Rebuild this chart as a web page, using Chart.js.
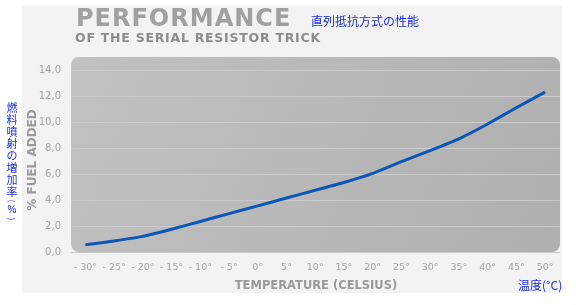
<!DOCTYPE html>
<html>
<head>
<meta charset="utf-8">
<script src="https://cdn.jsdelivr.net/npm/chart.js@4"></script>
<style>
body{margin:0;background:#fff;}
#wrap{position:relative;width:576px;height:305px;overflow:hidden;}
#panel{position:absolute;left:22px;top:6px;width:540px;height:287px;background:#f3f3f3;}
canvas{position:absolute;left:0;top:0;}
.t{position:absolute;white-space:nowrap;font-family:"DejaVu Sans",sans-serif;font-weight:bold;}
#title{left:76px;top:4px;font-size:24px;color:#a0a0a0;letter-spacing:1px;}
#sub{left:75px;top:30px;font-size:12.5px;color:#8c8c8c;letter-spacing:0.75px;}
#jp1{left:311px;top:12px;font-size:12px;color:#1c2ee0;font-family:"Noto Sans CJK JP",sans-serif;font-weight:normal;}
#ytitle{left:32px;top:160px;font-size:12px;color:#9a9a9a;transform:translate(-50%,-50%) rotate(-90deg);}
#xtitle{left:316px;top:285px;font-size:11.5px;color:#9a9a9a;transform:translate(-50%,-50%);}
#jp2{left:518px;top:276px;font-size:12px;color:#1c2ee0;font-family:"Noto Sans CJK JP",sans-serif;font-weight:normal;}
#jp3{left:5px;top:101px;width:14px;display:flex;flex-direction:column;align-items:center;font-size:11px;color:#1c2ee0;font-family:"Noto Sans CJK JP",sans-serif;font-weight:normal;}
#jp3 span{display:block;height:12px;line-height:12px;}
#jp3 span.p{height:6px;line-height:6px;font-size:8px;transform:rotate(90deg);margin:1px 0;}
#jp3 span.pc{height:10px;line-height:10px;font-family:"Liberation Sans",sans-serif;font-size:10px;}
</style>
</head>
<body>
<div id="wrap">
<div id="panel"></div>
<canvas id="myChart" width="576" height="305"></canvas>
<div class="t" id="title">PERFORMANCE</div>
<div class="t" id="sub">OF THE SERIAL RESISTOR TRICK</div>
<div class="t" id="jp1">直列抵抗方式の性能</div>
<div class="t" id="ytitle">% FUEL ADDED</div>
<div class="t" id="xtitle">TEMPERATURE (CELSIUS)</div>
<div class="t" id="jp2">温度(°C)</div>
<div class="t" id="jp3"><span>燃</span><span>料</span><span>噴</span><span>射</span><span>の</span><span>増</span><span>加</span><span>率</span><span class="p">(</span><span class="pc">%</span><span class="p">)</span></div>
</div>
<script>
// values
var temps = [-30,-25,-20,-15,-10,-5,0,5,10,15,20,25,30,35,40,45,50]
var fuel = [0.55,0.85,1.2,1.75,2.35,2.95,3.55,4.15,4.75,5.35,6.05,6.95,7.8,8.7,9.85,11.1,12.3]
var yTicks = [0,2,4,6,8,10,12,14]

var ctx = document.getElementById('myChart').getContext('2d');

var plotBg = {
  id: 'plotBg',
  beforeDraw: function(chart){
    let a = chart.chartArea
    let c = chart.ctx
    c.save()
    let g = c.createLinearGradient(a.left, a.top, a.right, a.bottom)
    g.addColorStop(0, '#c1c1c1')
    g.addColorStop(1, '#afafaf')
    c.fillStyle = g
    c.beginPath()
    c.roundRect(a.left, a.top, a.right - a.left, a.bottom - a.top, 8)
    c.fill()
    c.restore()
  }
}

var myChart = new Chart(ctx, {
  type: 'line',
  data: {
    datasets: [{
      data: temps.map((t,i)=>({x:t, y:fuel[i]})),
      borderColor: '#0b57b5',
      borderWidth: 3,
      pointRadius: 0,
      tension: 0.15,
      fill: false
    }]
  },
  options: {
    responsive: false,
    animation: false,
    layout: {padding: {top: 57, right: 16, left: 0, bottom: 0}},
    plugins: {legend: {display: false}, tooltip: {enabled: false}},
    scales: {
      x: {
        type: 'linear',
        min: -32.5,
        max: 52.6,
        afterFit: s => { s.height = 53 },
        afterBuildTicks: s => { s.ticks = temps.map(v=>({value:v})) },
        grid: {display: false, drawTicks: false},
        border: {display: false},
        ticks: {
          padding: 10,
          color: '#a3a3a3',
          font: {family: 'DejaVu Sans', size: 9.5},
          maxRotation: 0,
          autoSkip: false,
          callback: v => (v < 0 ? '- ' + Math.abs(v) : v) + '°'
        }
      },
      y: {
        min: 0,
        max: 15,
        afterFit: s => { s.width = 71 },
        afterBuildTicks: s => { s.ticks = yTicks.map(v=>({value:v})) },
        grid: {color: '#cbcbcb', lineWidth: 1, drawTicks: false},
        border: {display: false},
        ticks: {
          padding: 10,
          color: '#a3a3a3',
          font: {family: 'DejaVu Sans', size: 10},
          callback: v => v.toFixed(1).replace('.', ',')
        }
      }
    }
  },
  plugins: [plotBg]
});
</script>
</body>
</html>
